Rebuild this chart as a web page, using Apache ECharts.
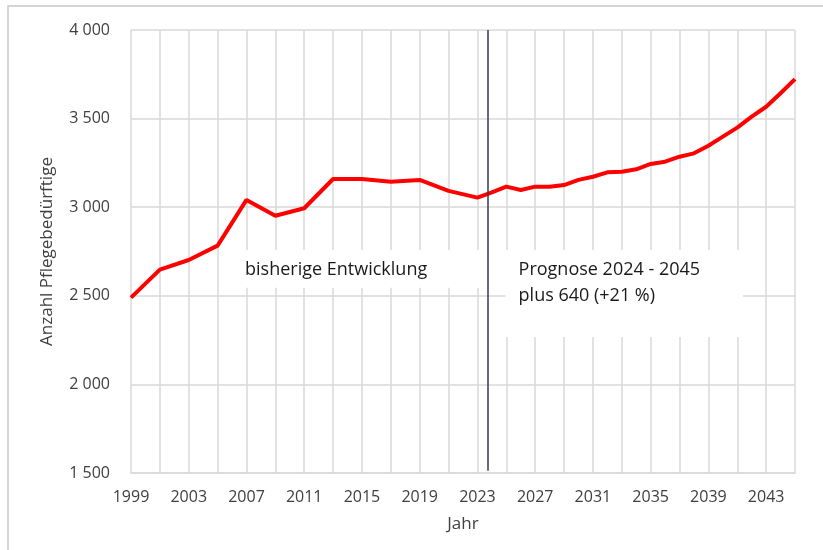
<!DOCTYPE html>
<html>
<head>
<meta charset="utf-8">
<script src="https://cdn.jsdelivr.net/npm/echarts@6/dist/echarts.min.js"></script>
<style>
  html, body { margin: 0; padding: 0; background: #fff; }
  #chart { width: 823px; height: 550px; }
</style>
</head>
<body>
<div id="chart"></div>
<script>
// Pflegebedürftige: historical values (every 2 years) and forecast (yearly)
const histYears = [1999, 2001, 2003, 2005, 2007, 2009, 2011, 2013, 2015, 2017, 2019, 2021, 2023];
const histValues = [2490, 2648, 2702, 2783, 3041, 2952, 2994, 3159, 3159, 3144, 3154, 3092, 3054];
const progYears = [2024, 2025, 2026, 2027, 2028, 2029, 2030, 2031, 2032, 2033, 2034,
  2035, 2036, 2037, 2038, 2039, 2040, 2041, 2042, 2043, 2044, 2045];
const progValues = [3084, 3116, 3097, 3116, 3116, 3125, 3154, 3172, 3197, 3200, 3214,
  3244, 3257, 3285, 3304, 3347, 3398, 3449, 3511, 3567, 3643, 3723];

const breakYear = 2023.7;
const fontFamily = '"Open Sans", "DejaVu Sans", sans-serif';

const lineData = histYears.map((y, i) => [y, histValues[i]])
  .concat(progYears.map((y, i) => [y, progValues[i]]));

const fmtThousands = v => String(v).replace(/\B(?=(\d{3})+(?!\d))/g, ' ');

const chart = echarts.init(document.getElementById('chart'));

chart.setOption({
  animation: false,
  textStyle: { fontFamily: fontFamily },
  grid: { left: 131, right: 28, top: 30, bottom: 77 },
  graphic: [{
    type: 'rect',
    shape: { x: 8, y: 6, width: 830, height: 560 },
    style: { fill: 'none', stroke: '#c8c8c8', lineWidth: 1.5 },
    silent: true
  }],
  xAxis: {
    type: 'value',
    min: 1999,
    max: 2045,
    interval: 2,
    name: 'Jahr',
    nameLocation: 'middle',
    nameGap: 43,
    nameTextStyle: { fontSize: 17, color: '#404040', fontFamily: fontFamily },
    axisLine: { show: true, lineStyle: { color: '#d9d9d9', width: 1.5 } },
    axisTick: { show: false },
    axisLabel: {
      margin: 16,
      fontSize: 16,
      color: '#404040',
      fontFamily: fontFamily,
      formatter: v => ((v - 1999) % 4 === 0 ? String(v) : '')
    },
    splitLine: { show: true, lineStyle: { color: '#d9d9d9', width: 1.5 } }
  },
  yAxis: {
    type: 'value',
    min: 1500,
    max: 4000,
    interval: 500,
    name: 'Anzahl Pflegebedürftige',
    nameLocation: 'middle',
    nameGap: 75,
    nameTextStyle: { fontSize: 17, color: '#404040', fontFamily: fontFamily },
    axisLine: { show: false },
    axisTick: { show: false },
    axisLabel: {
      margin: 21,
      fontSize: 16,
      color: '#404040',
      fontFamily: fontFamily,
      formatter: fmtThousands
    },
    splitLine: { show: true, lineStyle: { color: '#d9d9d9', width: 1.5 } }
  },
  series: [
    {
      // white text boxes with the annotations
      type: 'line',
      data: [],
      silent: true,
      z: 1,
      markArea: {
        silent: true,
        itemStyle: { color: '#ffffff', opacity: 1 },
        label: {
          position: 'insideTopLeft',
          distance: 0,
          fontSize: 18,
          lineHeight: 26,
          color: '#1a1a1a',
          fontFamily: fontFamily,
          padding: [7, 0, 0, 13]
        },
        data: [
          [{ name: 'bisherige Entwicklung', coord: [2006.0, 2758] }, { coord: [2023.3, 2545] }],
          [{ name: 'Prognose 2024 - 2045\nplus 640 (+21 %)', coord: [2024.95, 2758] }, { coord: [2041.4, 2268] }]
        ]
      }
    },
    {
      // separator between history and forecast
      type: 'line',
      data: [],
      silent: true,
      z: 3,
      markLine: {
        silent: true,
        symbol: ['none', 'none'],
        label: { show: false },
        lineStyle: { color: '#3a3a48', width: 1.5, type: 'solid' },
        data: [[{ coord: [breakYear, 4000] }, { coord: [breakYear, 1512] }]]
      }
    },
    {
      type: 'line',
      data: lineData,
      z: 4,
      symbol: 'none',
      lineStyle: { color: '#ff0000', width: 4 },
      itemStyle: { color: '#ff0000' }
    }
  ]
});

window.addEventListener('resize', () => chart.resize());
</script>
</body>
</html>
